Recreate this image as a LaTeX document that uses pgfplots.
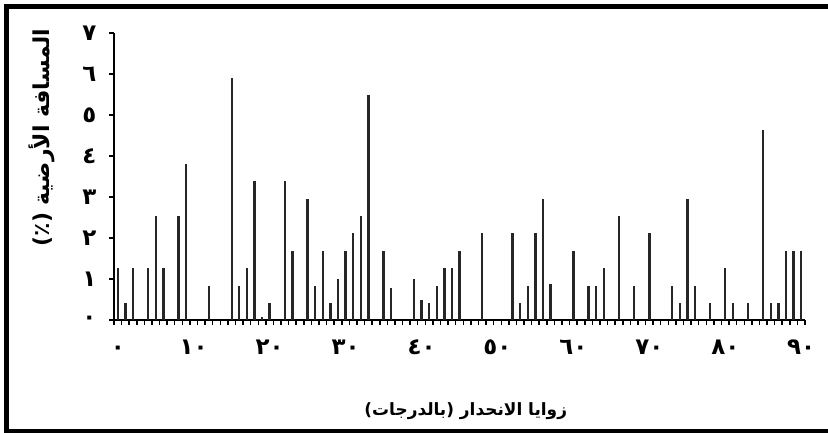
\documentclass[border=0pt]{standalone}
\usepackage{pgfplots}
\pgfplotsset{compat=1.18}
\usepackage{fontspec}
\setmainfont{Liberation Sans}
\newfontfamily\arabicfont[Script=Arabic]{DejaVu Sans}
\TeXXeTstate=1
\newcommand\arf{\arabicfont\bfseries\fontsize{23}{25}\selectfont}

% slope angle (degrees) vs. share of ground distance (%)
\pgfplotstableread{
x y
0 1.27
1 0.42
2 1.27
4 1.27
5 2.53
6 1.27
8 2.53
9 3.80
12 0.84
15 5.91
16 0.84
17 1.27
18 3.38
19 0.07
20 0.42
22 3.38
23 1.69
25 2.95
26 0.84
27 1.69
28 0.42
29 1.00
30 1.69
31 2.11
32 2.53
33 5.49
35 1.69
36 0.78
39 1.00
40 0.50
41 0.42
42 0.84
43 1.27
44 1.27
45 1.69
48 2.11
52 2.11
53 0.42
54 0.84
55 2.11
56 2.95
57 0.87
60 1.69
62 0.84
63 0.84
64 1.27
66 2.53
68 0.84
70 2.11
73 0.84
74 0.42
75 2.95
76 0.84
78 0.42
80 1.27
81 0.42
83 0.42
85 4.64
86 0.42
87 0.42
88 1.69
89 1.69
90 1.69
}\slopedata

\begin{document}
\begin{tikzpicture}[x=1bp,y=1bp]
\useasboundingbox (0,0) rectangle (828,432);
\begin{scope}
\clip (0,0) rectangle (828,432);
\draw[line width=4.5bp] (6.5,1) rectangle (840,425.5);
\end{scope}
\begin{axis}[
    at={(114bp,112bp)}, anchor=south west,
    width=691bp, height=287bp, scale only axis,
    xmin=-0.5, xmax=90.5,
    ymin=0, ymax=7,
    axis x line*=bottom, axis y line*=left,
    axis line style={-, line width=1.5bp, black},
    tick align=outside,
    xtick={0,10,...,90},
    xticklabels={٠,١٠,٢٠,٣٠,٤٠,٥٠,٦٠,٧٠,٨٠,٩٠},
    major x tick style={draw=none},
    minor xtick={-0.5,0.5,...,90.5},
    minor tick length=4.5bp,
    minor x tick style={line width=1.5bp, black},
    ytick={0,1,...,7},
    yticklabels={٠,١,٢,٣,٤,٥,٦,٧},
    major tick length=5bp,
    major y tick style={line width=1.5bp, black},
    xticklabel style={font=\arf, text height=16bp, text depth=0bp, yshift=-10bp},
    yticklabel style={font=\arf, xshift=-9bp},
    xlabel={\arabicfont\bfseries\fontsize{17}{20}\selectfont\beginR زوايا الانحدار  (بالدرجات)\endR},
    xlabel style={at={(axis description cs:0.509,-0.318)}, anchor=center},
    ylabel={\arabicfont\bfseries\fontsize{22}{24}\selectfont\beginR المسافة الأرضية (٪)\endR},
    ylabel style={at={(axis description cs:-0.105,0.635)}, anchor=center, rotate=0},
    clip=false,
]
\addplot[ycomb, draw=black!85, line width=2.4bp, mark=none] table[x=x, y=y] {\slopedata};
\end{axis}
\end{tikzpicture}
\end{document}
